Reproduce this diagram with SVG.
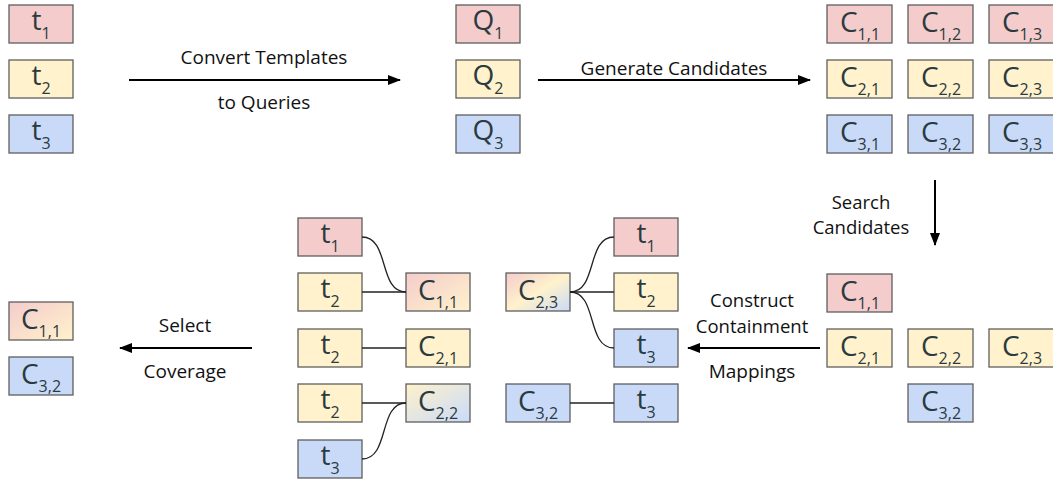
<svg xmlns="http://www.w3.org/2000/svg" width="1053" height="483" viewBox="0 0 1053 483">
  <defs>
    <marker id="arrow" viewBox="0 0 13 10" refX="12" refY="5" markerWidth="13" markerHeight="10" markerUnits="userSpaceOnUse" orient="auto">
      <path d="M0,0 L13,5 L0,10 Z" fill="#000"/>
    </marker>
    <linearGradient id="gPY" x1="0" y1="0" x2="1" y2="1">
      <stop offset="0" stop-color="#f4cccc"/>
      <stop offset="1" stop-color="#fff2cc"/>
    </linearGradient>
    <linearGradient id="gYB" x1="0" y1="0" x2="1" y2="1">
      <stop offset="0" stop-color="#fff2cc"/>
      <stop offset="1" stop-color="#c9daf8"/>
    </linearGradient>
    <linearGradient id="gPYB" x1="0" y1="0" x2="1" y2="1">
      <stop offset="0" stop-color="#f4cccc"/>
      <stop offset="0.5" stop-color="#fff2cc"/>
      <stop offset="1" stop-color="#c9daf8"/>
    </linearGradient>
  </defs>
  <style>
    .box { stroke: #5f5f5f; stroke-width: 1.3; }
    .r { fill: #f4cccc; }
    .y { fill: #fff2cc; }
    .b { fill: #c9daf8; }
    .lbl { font-family: "Open Sans", "DejaVu Sans", sans-serif; font-size: 28px; fill: #2b3a3f; text-anchor: middle; }
    .sub { font-size: 16px; }
    .cap { font-family: "Open Sans", "DejaVu Sans", sans-serif; font-size: 19px; fill: #111; text-anchor: middle; }
    .cap2 { font-size: 18.5px; }
    .arr { stroke: #000; stroke-width: 2; fill: none; marker-end: url(#arrow); }
    .link { stroke: #222; stroke-width: 1.3; fill: none; }
  </style>

  <!-- templates -->
  <g id="t1"><rect class="box r" x="9" y="5" width="64" height="38"/><text class="lbl" x="41" y="29.5">t<tspan class="sub" dy="9.5">1</tspan></text></g>
  <g id="t2"><rect class="box y" x="9" y="60" width="64" height="38"/><text class="lbl" x="41" y="84.5">t<tspan class="sub" dy="9.5">2</tspan></text></g>
  <g id="t3"><rect class="box b" x="9" y="115" width="64" height="38"/><text class="lbl" x="41" y="139.5">t<tspan class="sub" dy="9.5">3</tspan></text></g>

  <!-- queries -->
  <g id="q1"><rect class="box r" x="456" y="5" width="64" height="38"/><text class="lbl" x="488" y="30">Q<tspan class="sub" dy="9">1</tspan></text></g>
  <g id="q2"><rect class="box y" x="456" y="60" width="64" height="38"/><text class="lbl" x="488" y="85">Q<tspan class="sub" dy="9">2</tspan></text></g>
  <g id="q3"><rect class="box b" x="456" y="115" width="64" height="38"/><text class="lbl" x="488" y="140">Q<tspan class="sub" dy="9">3</tspan></text></g>

  <!-- candidate grid -->
  <g id="c11"><rect class="box r" x="827" y="5" width="65" height="38"/><text class="lbl" x="860" y="31.5">C<tspan class="sub" dy="8">1,1</tspan></text></g>
  <g id="c12"><rect class="box r" x="908" y="5" width="65" height="38"/><text class="lbl" x="941" y="31.5">C<tspan class="sub" dy="8">1,2</tspan></text></g>
  <g id="c13"><rect class="box r" x="989" y="5" width="65" height="38"/><text class="lbl" x="1022" y="31.5">C<tspan class="sub" dy="8">1,3</tspan></text></g>
  <g id="c21"><rect class="box y" x="827" y="60" width="65" height="38"/><text class="lbl" x="860" y="86.5">C<tspan class="sub" dy="8">2,1</tspan></text></g>
  <g id="c22"><rect class="box y" x="908" y="60" width="65" height="38"/><text class="lbl" x="941" y="86.5">C<tspan class="sub" dy="8">2,2</tspan></text></g>
  <g id="c23"><rect class="box y" x="989" y="60" width="65" height="38"/><text class="lbl" x="1022" y="86.5">C<tspan class="sub" dy="8">2,3</tspan></text></g>
  <g id="c31"><rect class="box b" x="827" y="115" width="65" height="38"/><text class="lbl" x="860" y="141.5">C<tspan class="sub" dy="8">3,1</tspan></text></g>
  <g id="c32"><rect class="box b" x="908" y="115" width="65" height="38"/><text class="lbl" x="941" y="141.5">C<tspan class="sub" dy="8">3,2</tspan></text></g>
  <g id="c33"><rect class="box b" x="989" y="115" width="65" height="38"/><text class="lbl" x="1022" y="141.5">C<tspan class="sub" dy="8">3,3</tspan></text></g>

  <!-- searched candidates -->
  <g id="s11"><rect class="box r" x="827" y="274" width="65" height="38"/><text class="lbl" x="860" y="300.5">C<tspan class="sub" dy="8">1,1</tspan></text></g>
  <g id="s21"><rect class="box y" x="827" y="329" width="65" height="38"/><text class="lbl" x="860" y="355.5">C<tspan class="sub" dy="8">2,1</tspan></text></g>
  <g id="s22"><rect class="box y" x="908" y="329" width="65" height="38"/><text class="lbl" x="941" y="355.5">C<tspan class="sub" dy="8">2,2</tspan></text></g>
  <g id="s23"><rect class="box y" x="989" y="329" width="65" height="38"/><text class="lbl" x="1022" y="355.5">C<tspan class="sub" dy="8">2,3</tspan></text></g>
  <g id="s32"><rect class="box b" x="908" y="384" width="65" height="38"/><text class="lbl" x="941" y="410.5">C<tspan class="sub" dy="8">3,2</tspan></text></g>

  <!-- containment mappings, right block -->
  <g id="m23"><rect class="box" fill="url(#gPYB)" x="506" y="273" width="64" height="38"/><text class="lbl" x="538" y="299.5">C<tspan class="sub" dy="8">2,3</tspan></text></g>
  <g id="m32"><rect class="box b" x="506" y="384" width="64" height="38"/><text class="lbl" x="538" y="410.5">C<tspan class="sub" dy="8">3,2</tspan></text></g>
  <g id="mt1"><rect class="box r" x="614" y="218" width="64" height="38"/><text class="lbl" x="646" y="242.5">t<tspan class="sub" dy="9.5">1</tspan></text></g>
  <g id="mt2"><rect class="box y" x="614" y="273" width="64" height="38"/><text class="lbl" x="646" y="297.5">t<tspan class="sub" dy="9.5">2</tspan></text></g>
  <g id="mt3"><rect class="box b" x="614" y="329" width="64" height="38"/><text class="lbl" x="646" y="353.5">t<tspan class="sub" dy="9.5">3</tspan></text></g>
  <g id="mt3b"><rect class="box b" x="614" y="384" width="64" height="38"/><text class="lbl" x="646" y="408.5">t<tspan class="sub" dy="9.5">3</tspan></text></g>

  <!-- containment mappings, left block -->
  <g id="lt1"><rect class="box r" x="298" y="218" width="64" height="38"/><text class="lbl" x="330" y="242.5">t<tspan class="sub" dy="9.5">1</tspan></text></g>
  <g id="lt2a"><rect class="box y" x="298" y="273" width="64" height="38"/><text class="lbl" x="330" y="297.5">t<tspan class="sub" dy="9.5">2</tspan></text></g>
  <g id="lt2b"><rect class="box y" x="298" y="329" width="64" height="38"/><text class="lbl" x="330" y="353.5">t<tspan class="sub" dy="9.5">2</tspan></text></g>
  <g id="lt2c"><rect class="box y" x="298" y="384" width="64" height="38"/><text class="lbl" x="330" y="408.5">t<tspan class="sub" dy="9.5">2</tspan></text></g>
  <g id="lt3"><rect class="box b" x="298" y="440" width="64" height="38"/><text class="lbl" x="330" y="464.5">t<tspan class="sub" dy="9.5">3</tspan></text></g>
  <g id="l11"><rect class="box" fill="url(#gPY)" x="406" y="273" width="64" height="38"/><text class="lbl" x="438" y="299.5">C<tspan class="sub" dy="8">1,1</tspan></text></g>
  <g id="l21"><rect class="box y" x="406" y="329" width="64" height="38"/><text class="lbl" x="438" y="355.5">C<tspan class="sub" dy="8">2,1</tspan></text></g>
  <g id="l22"><rect class="box" fill="url(#gYB)" x="406" y="384" width="64" height="38"/><text class="lbl" x="438" y="410.5">C<tspan class="sub" dy="8">2,2</tspan></text></g>

  <!-- selected cover -->
  <g id="f11"><rect class="box" fill="url(#gPY)" x="9" y="302" width="64" height="38"/><text class="lbl" x="41" y="328.5">C<tspan class="sub" dy="8">1,1</tspan></text></g>
  <g id="f32"><rect class="box b" x="9" y="357" width="64" height="38"/><text class="lbl" x="41" y="383.5">C<tspan class="sub" dy="8">3,2</tspan></text></g>

  <!-- connectors -->
  <g id="connectors">
    <path class="arr" d="M129,80 H400"/>
    <path class="arr" d="M538,80 H810"/>
    <path class="arr" d="M935,180 V245"/>
    <path class="arr" d="M820,348 H688"/>
    <path class="arr" d="M252,348 H120"/>

    <path class="link" d="M362,237 C390,237 378,292 406,292"/>
    <path class="link" d="M362,292 H406"/>
    <path class="link" d="M362,348 H406"/>
    <path class="link" d="M362,403 H406"/>
    <path class="link" d="M362,459 C390,459 378,403 406,403"/>

    <path class="link" d="M570,292 C598,292 586,237 614,237"/>
    <path class="link" d="M570,292 H614"/>
    <path class="link" d="M570,292 C598,292 586,348 614,348"/>
    <path class="link" d="M570,403 H614"/>
  </g>

  <!-- step labels -->
  <text class="cap" x="264" y="64">Convert Templates</text>
  <text class="cap" x="264" y="109">to Queries</text>
  <text class="cap" x="674" y="75">Generate Candidates</text>
  <text class="cap cap2" x="861" y="208.5">Search</text>
  <text class="cap cap2" x="861" y="234">Candidates</text>
  <text class="cap cap2" x="752" y="307">Construct</text>
  <text class="cap cap2" x="752" y="332.5">Containment</text>
  <text class="cap" x="752" y="378">Mappings</text>
  <text class="cap" x="185" y="332">Select</text>
  <text class="cap" x="185" y="378">Coverage</text>
</svg>
